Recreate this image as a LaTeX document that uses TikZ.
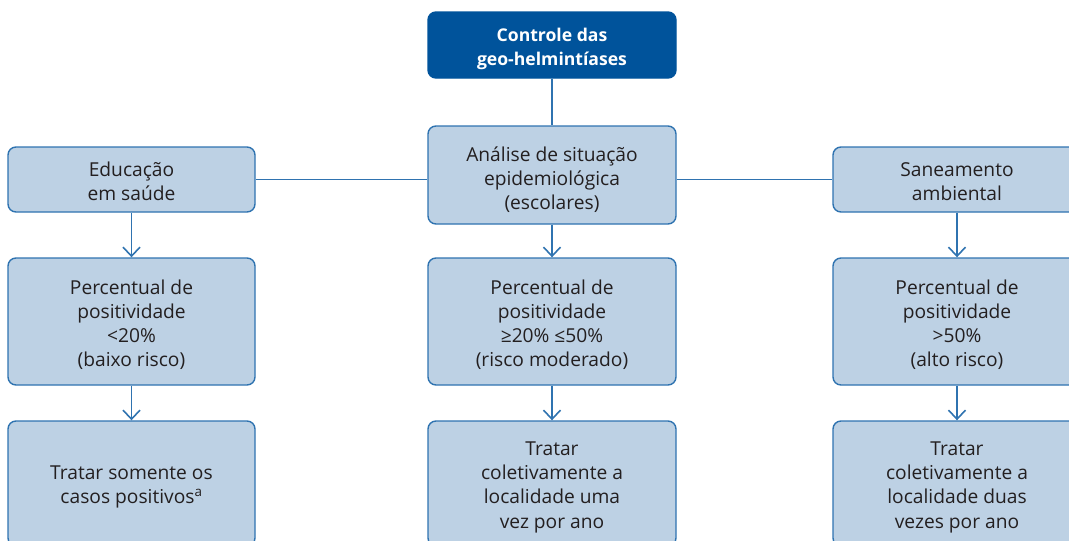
\documentclass[tikz,border=0pt]{standalone}
\usepackage{fontspec}
\setmainfont{Open Sans}
\usetikzlibrary{arrows.meta}
\definecolor{darkbox}{HTML}{00539B}
\definecolor{lightbox}{HTML}{BDD1E4}
\definecolor{boxline}{HTML}{2F73B0}
\definecolor{txt}{HTML}{231F20}
\newcommand{\tstrut}[1][21pt]{\rule{0pt}{#1}}
\tikzset{
  basebox/.style={rectangle, rounded corners=8pt, line width=1.4pt, align=center, inner sep=0pt, text=txt,
    font=\fontsize{19.2}{24.3}\selectfont,
    execute at end node={\rule[-3pt]{0pt}{3pt}}},
  lightnode/.style={basebox, draw=boxline, fill=lightbox},
  topnode/.style={basebox, draw=darkbox, fill=darkbox, text=white, font=\fontsize{17.6}{24}\selectfont\bfseries},
  link/.style={draw=boxline, line width=1.8pt},
  flow/.style={link, -{Straight Barb[length=9pt,width=17pt,line width=1.6pt]}}
}
\begin{document}
\begin{tikzpicture}[x=1pt,y=-1pt]
\useasboundingbox (0,0) rectangle (1069,541);
\clip (0,0) rectangle (1069,541);
\node[topnode, minimum width=248pt, minimum height=66pt] (top) at (552,45) {\tstrut Controle das\\geo-helmintíases};
\node[lightnode, minimum width=248pt, minimum height=98pt] (ana) at (552,175) {\tstrut[24pt]Análise de situação\\epidemiológica\\(escolares)};
\node[lightnode, minimum width=247pt, minimum height=65pt] (edu) at (131.5,179.5) {\tstrut Educação\\em saúde};
\node[lightnode, minimum width=248pt, minimum height=65pt] (san) at (957,179.5) {\tstrut Saneamento\\ambiental};
\node[lightnode, minimum width=247pt, minimum height=127pt] (pl) at (131.5,321.5) {\tstrut Percentual de\\positividade\\<20\%\\(baixo risco)};
\node[lightnode, minimum width=248pt, minimum height=127pt] (pm) at (552,321.5) {\tstrut Percentual de\\positividade\\≥20\% ≤50\%\\(risco moderado)};
\node[lightnode, minimum width=248pt, minimum height=127pt] (pr) at (957,321.5) {\tstrut Percentual de\\positividade\\>50\%\\(alto risco)};
\node[lightnode, minimum width=247pt, minimum height=125pt] (tl) at (131.5,483.5) {\tstrut Tratar somente os\\casos positivos\textsuperscript{a}};
\node[lightnode, minimum width=248pt, minimum height=125pt] (tm) at (552,483.5) {\tstrut Tratar\\coletivamente a\\localidade uma\\vez por ano};
\node[lightnode, minimum width=248pt, minimum height=125pt] (tr) at (957,483.5) {\tstrut Tratar\\coletivamente a\\localidade duas\\vezes por ano};
\draw[link] (top) -- (ana);
\draw[link] (edu.east) -- (edu.east -| ana.west);
\draw[link] (ana.east |- san.west) -- (san.west);
\draw[flow] (edu) -- (pl);
\draw[flow] (ana) -- (pm);
\draw[flow] (san) -- (pr);
\draw[flow] (pl) -- (tl);
\draw[flow] (pm) -- (tm);
\draw[flow] (pr) -- (tr);
\end{tikzpicture}
\end{document}
